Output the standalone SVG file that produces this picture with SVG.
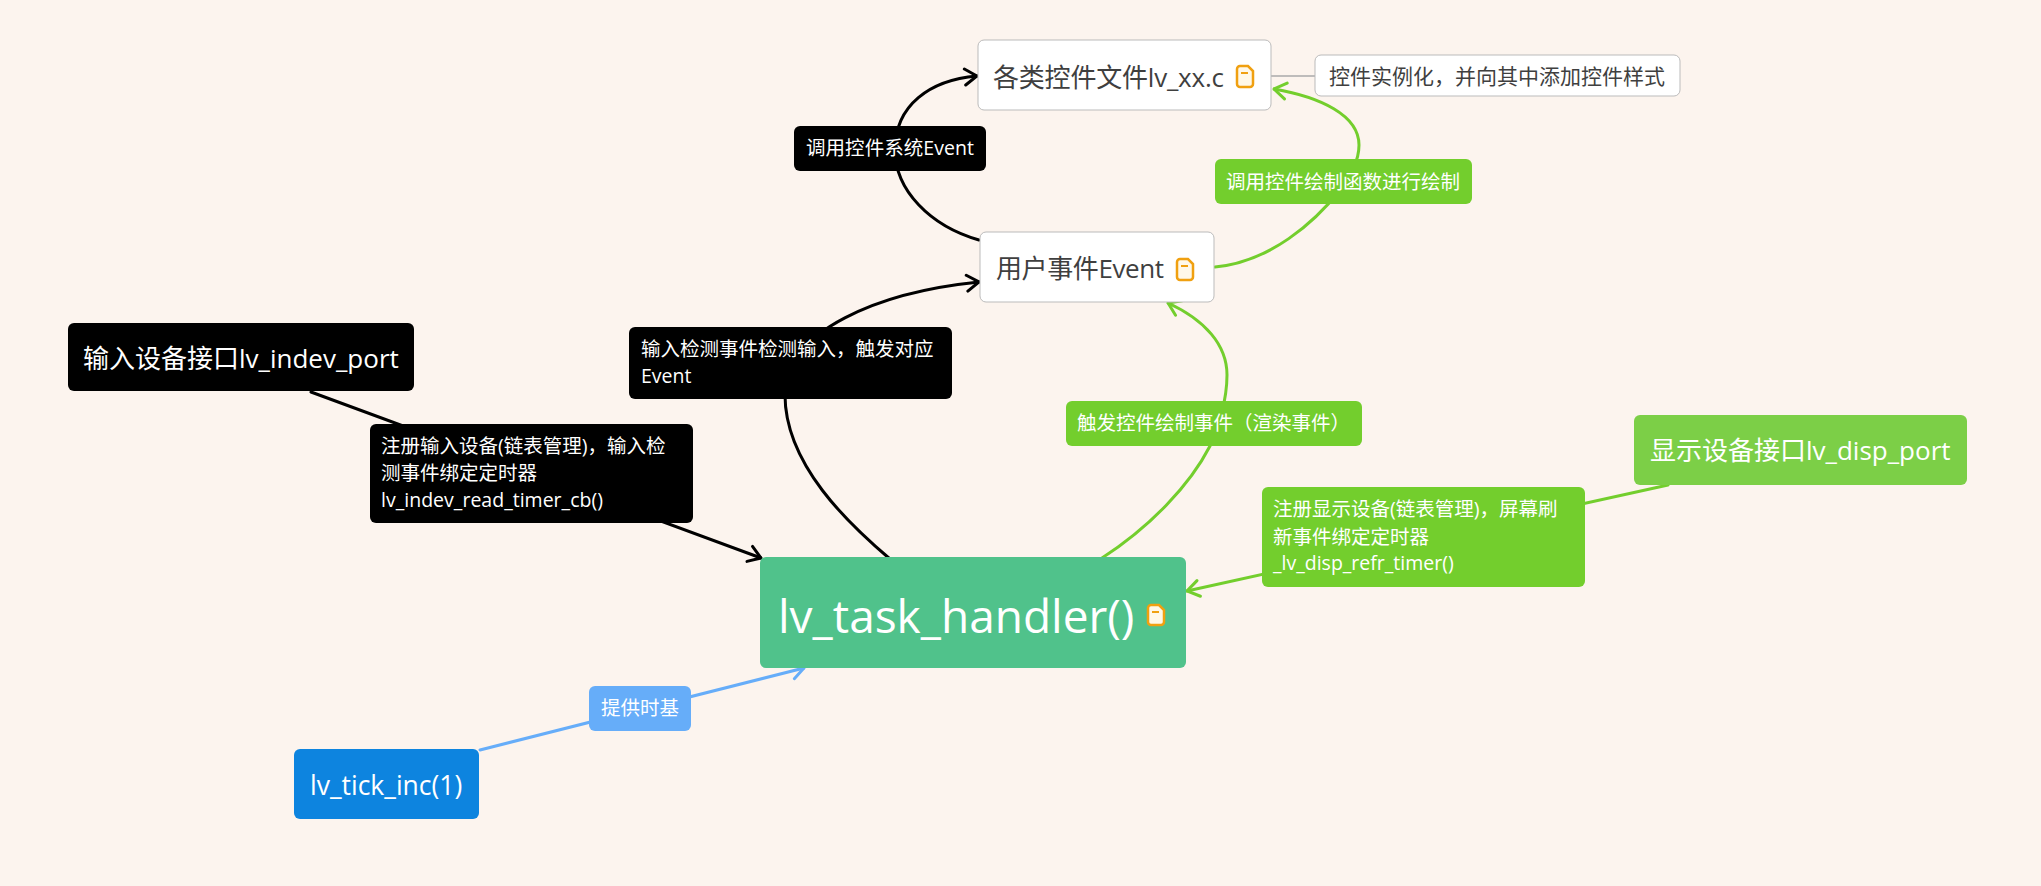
<svg xmlns="http://www.w3.org/2000/svg" width="2041" height="886" viewBox="0 0 2041 886">
<style>
text{font-family:"Open Sans","Noto Sans CJK SC",sans-serif;fill:#fff}
.lbl{font-size:19.5px}
.dark{fill:#3f3f3f}
.c{fill:none;stroke-width:3;stroke-linecap:round}
.k{stroke:#000}
.g{stroke:#73ce2d}
.b{stroke:#66adf9}
.ico{fill:#fff8e8;stroke:#f0a010;stroke-width:2.5}
.wn{fill:#fff;stroke:#bbb;stroke-width:1}
</style>
<defs>
<marker id="ak" viewBox="0 0 16 20" refX="15" refY="10" markerWidth="16" markerHeight="20" markerUnits="userSpaceOnUse" orient="auto"><path d="M3 2L15 10L3 18" fill="none" stroke="#000" stroke-width="3" stroke-linecap="round"/></marker>
<marker id="ag" viewBox="0 0 16 20" refX="15" refY="10" markerWidth="16" markerHeight="20" markerUnits="userSpaceOnUse" orient="auto"><path d="M3 2L15 10L3 18" fill="none" stroke="#73ce2d" stroke-width="3" stroke-linecap="round"/></marker>
<marker id="ab" viewBox="0 0 16 20" refX="15" refY="10" markerWidth="16" markerHeight="20" markerUnits="userSpaceOnUse" orient="auto"><path d="M3 2L15 10L3 18" fill="none" stroke="#66adf9" stroke-width="3" stroke-linecap="round"/></marker>
</defs>
<rect width="2041" height="886" fill="#fcf4ee"/>
<g id="connectors">
<path class="c k" marker-end="url(#ak)" d="M979 240C930 226 895 190 895 150C895 105 930 80 977 76"/>
<path class="c k" marker-end="url(#ak)" d="M890 559C850 525 785 465 785 395C785 330 880 292 979 282"/>
<path class="c k" marker-end="url(#ak)" d="M311 392L761 558"/>
<path class="c g" marker-end="url(#ag)" d="M1215 267C1270 262 1315 222 1340 190C1350 175 1359 162 1359 145C1359 115 1320 97 1274 89"/>
<path class="c g" marker-end="url(#ag)" d="M1102 558C1150 527 1190 485 1210 446C1218 430 1227 400 1227 375C1227 345 1205 320 1168 303"/>
<path class="c g" marker-end="url(#ag)" d="M1668 485L1187 591"/>
<path class="c b" marker-end="url(#ab)" d="M480 750L804 668"/>
<path d="M1271 76H1315" fill="none" stroke="#aaa" stroke-width="1.5"/>
</g>
<g id="n-xx"><rect class="wn" x="978" y="40" width="293" height="70" rx="6"/><text class="dark" x="993" y="87" font-size="26" textLength="231">各类控件文件lv_xx.c</text><path class="ico" d="M1240 66h8l5 5v13a3 3 0 0 1-3 3h-10a3 3 0 0 1-3-3v-15a3 3 0 0 1 3-3z"/><path d="M1241 73h7" stroke="#f0a010" stroke-width="2"/></g>
<g id="n-event"><rect class="wn" x="980" y="232" width="234" height="70" rx="6"/><text class="dark" x="996" y="278" font-size="26" textLength="168">用户事件Event</text><path class="ico" d="M1180 259h8l5 5v13a3 3 0 0 1-3 3h-10a3 3 0 0 1-3-3v-15a3 3 0 0 1 3-3z"/><path d="M1181 266h7" stroke="#f0a010" stroke-width="2"/></g>
<g id="n-note"><rect class="wn" x="1315" y="55" width="365" height="41" rx="6"/><text class="dark" x="1329" y="84" font-size="21">控件实例化，并向其中添加控件样式</text></g>
<g id="n-indev"><rect x="68" y="323" width="346" height="68" rx="6" fill="#000"/><text x="83" y="368" font-size="26">输入设备接口lv_indev_port</text></g>
<g id="n-handler"><rect x="760" y="557" width="426" height="111" rx="6" fill="#50c28b"/><text x="778" y="633" font-size="46">lv_task_handler()</text><path class="ico" d="M1151 605h8l5 5v12a3 3 0 0 1-3 3h-10a3 3 0 0 1-3-3v-14a3 3 0 0 1 3-3z"/><path d="M1152 612h7" stroke="#f0a010" stroke-width="2"/></g>
<g id="n-disp"><rect x="1634" y="415" width="333" height="70" rx="6" fill="#7ccf47"/><text x="1650" y="460" font-size="26">显示设备接口lv_disp_port</text></g>
<g id="n-tick"><rect x="294" y="749" width="185" height="70" rx="6" fill="#0d84df"/><text x="310" y="795" font-size="26.5">lv_tick_inc(1)</text></g>
<g id="l-sys"><rect x="794" y="126" width="192" height="45" rx="6" fill="#000"/><text class="lbl" x="806" y="155" textLength="168">调用控件系统Event</text></g>
<g id="l-draw"><rect x="1215" y="159" width="257" height="45" rx="6" fill="#73ce2d"/><text class="lbl" x="1226" y="189">调用控件绘制函数进行绘制</text></g>
<g id="l-input"><rect x="629" y="327" width="323" height="72" rx="6" fill="#000"/><text class="lbl" x="641" y="356">输入检测事件检测输入，触发对应</text><text class="lbl" x="641" y="383">Event</text></g>
<g id="l-indev"><rect x="370" y="424" width="323" height="99" rx="6" fill="#000"/><text class="lbl" x="381" y="453">注册输入设备(链表管理)，输入检</text><text class="lbl" x="381" y="480">测事件绑定定时器</text><text class="lbl" x="381" y="507" textLength="222">lv_indev_read_timer_cb()</text></g>
<g id="l-render"><rect x="1066" y="401" width="296" height="45" rx="6" fill="#73ce2d"/><text class="lbl" x="1077" y="430">触发控件绘制事件（渲染事件）</text></g>
<g id="l-disp"><rect x="1262" y="487" width="323" height="100" rx="6" fill="#73ce2d"/><text class="lbl" x="1273" y="516">注册显示设备(链表管理)，屏幕刷</text><text class="lbl" x="1273" y="544">新事件绑定定时器</text><text class="lbl" x="1273" y="570">_lv_disp_refr_timer()</text></g>
<g id="l-time"><rect x="589" y="686" width="102" height="45" rx="6" fill="#66adf9"/><text class="lbl" x="601" y="715">提供时基</text></g>
</svg>
